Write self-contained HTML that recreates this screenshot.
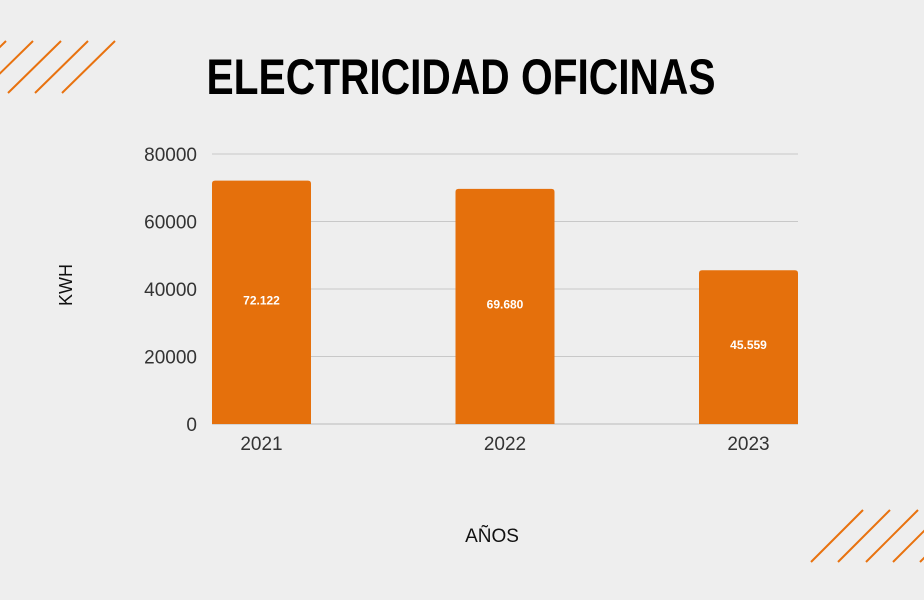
<!DOCTYPE html>
<html><head><meta charset="utf-8"><style>
html,body{margin:0;padding:0;background:#eeeeee;}
svg{display:block;font-family:"Liberation Sans",sans-serif;}
</style></head><body>
<svg id="chart" width="924" height="600" viewBox="0 0 924 600">
<rect width="924" height="600" fill="#eeeeee"/>
<g id="deco" stroke="#e8720f" stroke-width="2"></g>
<text x="461" y="94" text-anchor="middle" font-size="50" font-weight="bold" fill="#000" textLength="509" lengthAdjust="spacingAndGlyphs">ELECTRICIDAD OFICINAS</text>
<g id="grid"></g>
<g id="bars"></g>
<text x="72" y="285" transform="rotate(-90 72 285)" text-anchor="middle" font-size="18" fill="#111">KWH</text>
<text x="492" y="542" text-anchor="middle" font-size="19" fill="#111">AÑOS</text>
</svg>
<script>
const categories = ["2021","2022","2023"];
const values = [72122, 69680, 45559];
const valueLabels = ["72.122","69.680","45.559"];
const yTicks = [0,20000,40000,60000,80000];

const NS="http://www.w3.org/2000/svg";
const x0=212, x1=798, y0=424, yTop=154, yMax=80000, barW=99;
function yScale(v){return y0-(v/yMax)*(y0-yTop);}
function xScale(i){const step=(x1-x0-barW)/(categories.length-1);return x0+i*step;}
function mk(tag,attrs,parent){const e=document.createElementNS(NS,tag);for(const k in attrs)e.setAttribute(k,attrs[k]);parent.appendChild(e);return e;}

const deco=document.getElementById('deco');
[6,33,61,88,115].forEach(t=>{
  const l=mk('line',{x1:t,y1:41,x2:t-53,y2:93},deco);
  
  
});
[811,838,866,893,920].forEach(b=>{
  const l=mk('line',{x1:b,y1:562,x2:b+52,y2:510},deco);
  
  
});

const grid=document.getElementById('grid');
yTicks.forEach(t=>{
  const y=yScale(t);
  if(t>0){
    const l=mk('line',{x1:x0,x2:x1,y1:y,y2:y,stroke:"#c8c8c8","stroke-width":1},grid);
    
    
  }
  const tx=mk('text',{x:197,y:y+7,"text-anchor":"end","font-size":19,fill:"#333"},grid);
  tx.textContent=String(t);
  
  
});
const base=mk('line',{x1:x0,x2:x1,y1:y0,y2:y0,stroke:"#bbb","stroke-width":1},grid);



const bars=document.getElementById('bars');
values.forEach((v,i)=>{
  const x=xScale(i), y=yScale(v);
  const r=mk('path',{d:`M${x},${y0} L${x},${y+3} Q${x},${y} ${x+3},${y} L${x+barW-3},${y} Q${x+barW},${y} ${x+barW},${y+3} L${x+barW},${y0} Z`,fill:"#e5700c"},bars);
  
  
  const lbl=mk('text',{x:x+barW/2,y:(y+y0)/2+2,"text-anchor":"middle","font-size":12,"font-weight":"bold",fill:"#fff"},bars);
  lbl.textContent=valueLabels[i];
  
  
  const cx=mk('text',{x:x+barW/2,y:450,"text-anchor":"middle","font-size":19,fill:"#333"},bars);
  cx.textContent=categories[i];
  
  
});
</script>
</body></html>
